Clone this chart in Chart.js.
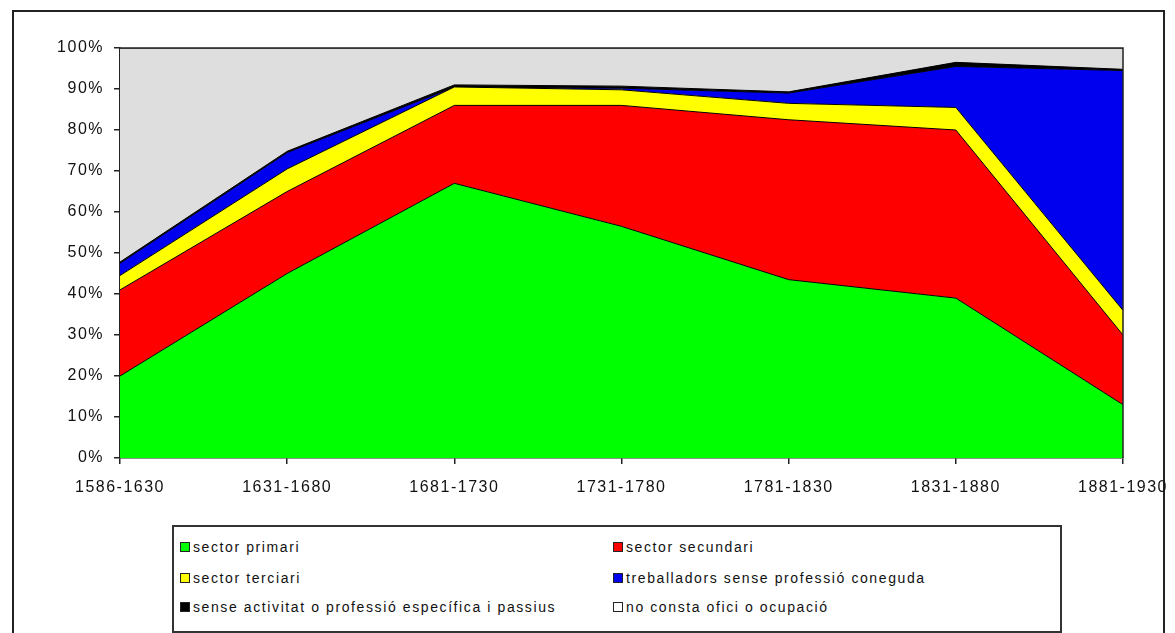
<!DOCTYPE html>
<html>
<head>
<meta charset="utf-8">
<script src="https://cdn.jsdelivr.net/npm/chart.js@4/dist/chart.umd.min.js"></script>
<style>
  html, body { margin: 0; padding: 0; background: #fff; }
  body { width: 1175px; height: 633px; position: relative; overflow: hidden; font-family: "Liberation Sans", Arial, sans-serif; }
  #frame { position: absolute; left: 12px; top: 10px; width: 1149px; height: 660px; border: 2px solid #222; }
  #wrap { position: absolute; left: 0; top: 0; width: 1175px; height: 520px; }
  #legend { position: absolute; left: 172px; top: 525px; width: 886px; height: 104px; border: 2px solid #333; background: #fff; }
  .item { position: absolute; display: flex; align-items: center; font-size: 14px; letter-spacing: 1.6px; color: #111; white-space: nowrap; height: 16px; }
  .sw { width: 8px; height: 8px; border: 1px solid #222; margin-right: 3px; }
</style>
</head>
<body>
<div id="frame"></div>
<div id="wrap"><canvas id="c" width="1175" height="520"></canvas></div>
<div id="legend"></div>
<script>
const categories = ['1586-1630', '1631-1680', '1681-1730', '1731-1780', '1781-1830', '1831-1880', '1881-1930'];
const sectorPrimari = [20, 45, 67, 56.5, 43.5, 39, 13];
const sectorSecundari = [21, 20, 19, 29.5, 39, 41, 17];
const sectorTerciari = [3.5, 5.5, 4.5, 3.8, 4, 5.5, 6];
const treballadorsSense = [3, 4, 0, 0.4, 2.5, 10, 58.5];
const senseActivitat = [0.3, 0.3, 0.5, 0.5, 0.3, 1.0, 0.3];
const noConsta = [52.2, 25.2, 9, 9.3, 10.7, 3.5, 5.2];
const seriesLabels = ['sector primari', 'sector secundari', 'sector terciari', 'treballadors sense professió coneguda', 'sense activitat o professió específica i passius', 'no consta ofici o ocupació'];
const seriesColors = ['#00FF00', '#FF0000', '#FFFF00', '#0000EE', '#000000', '#DEDEDE'];
const seriesData = [sectorPrimari, sectorSecundari, sectorTerciari, treballadorsSense, senseActivitat, noConsta];
const yTicks = [0, 10, 20, 30, 40, 50, 60, 70, 80, 90, 100];

const datasets = seriesData.map((d, i) => ({
  label: seriesLabels[i],
  data: d,
  backgroundColor: seriesColors[i],
  borderColor: '#000',
  borderWidth: 1,
  pointRadius: 0,
  tension: 0,
  fill: i === 0 ? 'origin' : '-1'
}));

const spacing = {
  id: 'spacing',
  beforeUpdate(chart) { chart.ctx.letterSpacing = '1.5px'; },
  beforeLayout(chart) { chart.ctx.letterSpacing = '1.5px'; },
  beforeDraw(chart) { chart.ctx.letterSpacing = '1.5px'; },
  afterDraw(chart) {
    const a = chart.chartArea, ctx = chart.ctx;
    ctx.save();
    ctx.strokeStyle = '#222';
    ctx.lineWidth = 1.5;
    ctx.beginPath();
    ctx.moveTo(a.left, a.top); ctx.lineTo(a.right, a.top); ctx.lineTo(a.right, a.bottom);
    ctx.stroke();
    ctx.restore();
  }
};

new Chart(document.getElementById('c'), {
  type: 'line',
  data: { labels: categories, datasets },
  options: {
    responsive: false,
    animation: false,
    layout: { padding: { left: 0, top: 48, right: 52, bottom: 0 } },
    plugins: { legend: { display: false }, tooltip: { enabled: false } },
    scales: {
      x: {
        offset: false,
        grid: { display: true, drawOnChartArea: false, drawTicks: true, tickLength: 6, color: '#222', lineWidth: 1.5 },
        border: { display: true, color: '#222', width: 1.5 },
        ticks: { color: '#111', font: { family: 'Liberation Sans', size: 16 }, padding: 14, maxRotation: 0, autoSkip: false },
        afterFit(s) { s.height = 62; s.paddingLeft = 0; s.paddingRight = 0; }
      },
      y: {
        stacked: true,
        min: 0, max: 100,
        afterBuildTicks(s) { s.ticks = yTicks.map(v => ({ value: v })); },
        grid: { display: true, drawOnChartArea: false, drawTicks: true, tickLength: 6, color: '#222', lineWidth: 1.5 },
        border: { display: true, color: '#222', width: 1.5 },
        ticks: { color: '#111', font: { family: 'Liberation Sans', size: 16 }, padding: 10, callback: v => v + '%' },
        afterFit(s) { s.width = 120; s.paddingTop = 0; s.paddingBottom = 0; }
      }
    }
  },
  plugins: [spacing]
});

const legend = document.getElementById('legend');
const colX = [6, 439];
const rowY = [12, 43, 72];
seriesLabels.forEach((lab, i) => {
  const it = document.createElement('div');
  it.className = 'item';
  it.style.left = colX[i % 2] + 'px';
  it.style.top = rowY[Math.floor(i / 2)] + 'px';
  const sw = document.createElement('span');
  sw.className = 'sw';
  sw.style.background = seriesColors[i] === '#DEDEDE' ? '#fff' : seriesColors[i];
  const t = document.createElement('span');
  t.textContent = lab;
  it.appendChild(sw); it.appendChild(t);
  legend.appendChild(it);
});
</script>
</body>
</html>
